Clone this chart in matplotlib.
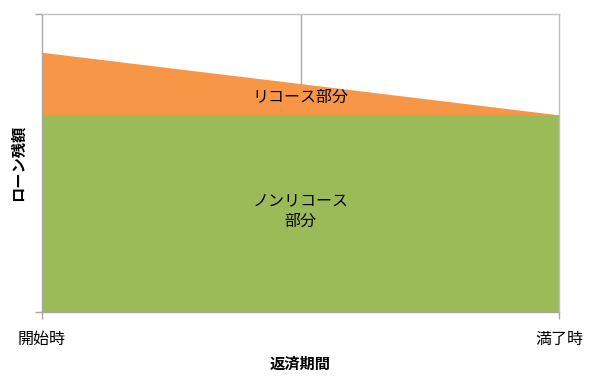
import matplotlib.pyplot as plt

plt.rcParams['font.family'] = ['Noto Sans CJK JP', 'DejaVu Sans']

# data
periods = [0, 1]
period_labels = ["開始時", "満了時"]
nonrecourse = [66, 66]
recourse = [21, 0]

fig = plt.figure(figsize=(5.94, 3.76), dpi=100)
ax = fig.add_axes([42 / 594, 1 - 312 / 376, 517 / 594, 298 / 376])

ax.stackplot(periods, nonrecourse, recourse,
             colors=["#9BBB59", "#F79646"], zorder=2)

# middle vertical gridline (behind fills)
ax.axvline(0.5, color="#A6A6A6", lw=1, zorder=1)

ax.set_xlim(0, 1)
ax.set_ylim(0, 100)
ax.set_xticks(periods)
ax.set_xticklabels(period_labels, fontsize=11.5)
ax.set_yticks([0, 100])
ax.set_yticklabels([])
ax.tick_params(axis="both", color="#A6A6A6", length=5, width=1)
ax.tick_params(axis="x", pad=9)

for s in ["top", "right"]:
    ax.spines[s].set_color("#BFBFBF")
for s in ["left", "bottom"]:
    ax.spines[s].set_color("#A6A6A6")
for s in ax.spines.values():
    s.set_linewidth(1)
    s.set_zorder(3)

ax.text(0.5, 72, "リコース部分", ha="center", va="center", fontsize=11.5)
ax.text(0.5, 34, "ノンリコース\n部分", ha="center", va="center",
        fontsize=11.5, linespacing=1.3)

ax.set_ylabel("ローン残額", fontsize=11, fontweight="bold", labelpad=3)
ax.set_xlabel("返済期間", fontsize=11, fontweight="bold", labelpad=5)

fig.savefig("out.png", dpi=100)
